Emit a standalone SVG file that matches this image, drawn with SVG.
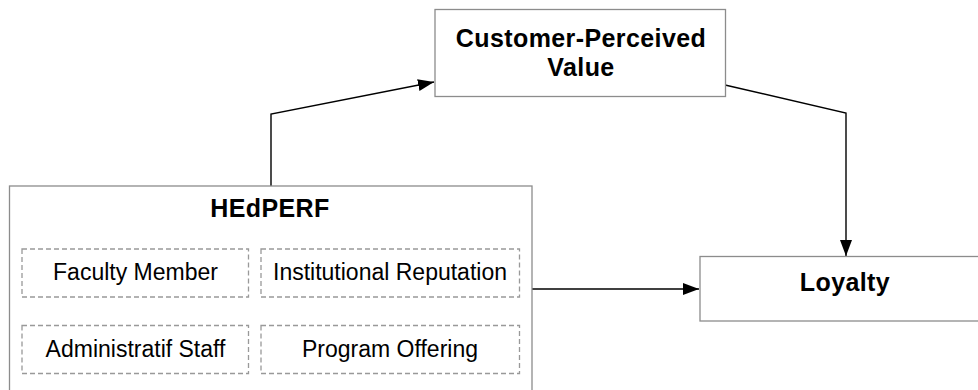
<svg xmlns="http://www.w3.org/2000/svg" width="978" height="390" viewBox="0 0 978 390">
<style>
  .box { fill: #ffffff; stroke: #8c8c8c; stroke-width: 1.3; }
  .dash { fill: none; stroke: #999999; stroke-width: 1.3; stroke-dasharray: 5 3; }
  .bold { font-family: "Liberation Sans", Arial, Helvetica, sans-serif; font-weight: bold; font-size: 25px; letter-spacing: 0.4px; fill: #000; text-anchor: middle; }
  .reg { font-family: "Liberation Sans", Arial, Helvetica, sans-serif; font-size: 23px; fill: #000; text-anchor: middle; }
  .conn { fill: none; stroke: #000; stroke-width: 1.4; }
</style>
<defs>
  <marker id="arrow" markerUnits="userSpaceOnUse" markerWidth="16" markerHeight="12" refX="16" refY="6" orient="auto">
    <path d="M0,0 L16,6 L0,12 z" fill="#000"/>
  </marker>
</defs>
<rect width="978" height="390" fill="#ffffff"/>
<g id="connectors">
  <path class="conn" d="M271,186 L271,114 L434,82" marker-end="url(#arrow)"/>
  <path class="conn" d="M725,85 L846,113 L846,256" marker-end="url(#arrow)"/>
  <path class="conn" d="M532,289 L699,289" marker-end="url(#arrow)"/>
</g>
<g id="cpv">
  <rect class="box" x="435" y="9.5" width="290.5" height="87"/>
  <text class="bold" x="581" y="47">Customer-Perceived</text>
  <text class="bold" x="581" y="76">Value</text>
</g>
<g id="hedperf">
  <rect class="box" x="9.5" y="186" width="522.5" height="220"/>
  <text class="bold" x="270" y="217">HEdPERF</text>
</g>
<g id="faculty">
  <rect class="dash" x="22" y="249" width="226.5" height="48"/>
  <text class="reg" x="135.5" y="280">Faculty Member</text>
</g>
<g id="reputation">
  <rect class="dash" x="261" y="249" width="258.5" height="48"/>
  <text class="reg" x="390" y="280">Institutional Reputation</text>
</g>
<g id="staff">
  <rect class="dash" x="22" y="325.5" width="226.5" height="48"/>
  <text class="reg" x="135.5" y="356.5">Administratif Staff</text>
</g>
<g id="program">
  <rect class="dash" x="261" y="325.5" width="258.5" height="48"/>
  <text class="reg" x="390" y="356.5">Program Offering</text>
</g>
<g id="loyalty">
  <rect class="box" x="700" y="256.5" width="291" height="64.5"/>
  <text class="bold" x="845" y="291">Loyalty</text>
</g>
</svg>
